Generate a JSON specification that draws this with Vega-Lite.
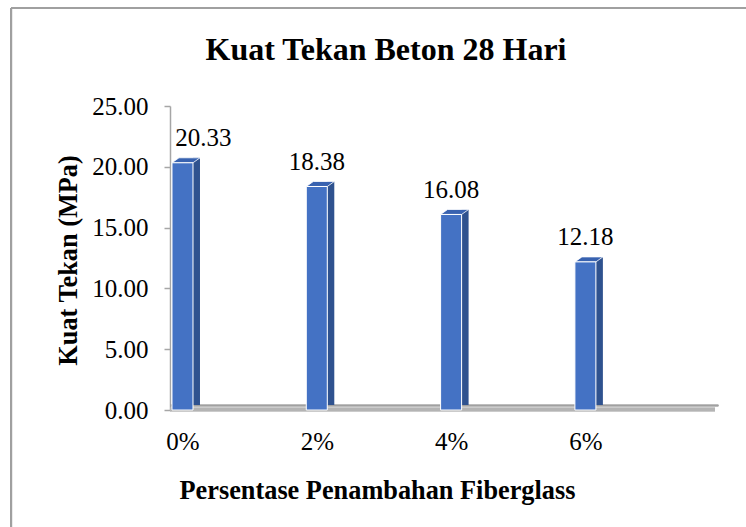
{
  "$schema": "https://vega.github.io/schema/vega-lite/v6.json",
  "width": 545,
  "height": 304,
  "autosize": {"type": "none"},
  "padding": {"left": 170, "top": 106, "right": 31, "bottom": 117},
  "background": "white",
  "title": {"text": "Kuat Tekan Beton 28 Hari", "font": "Liberation Serif", "fontSize": 32, "fontWeight": "bold", "color": "black", "baseline": "alphabetic", "offset": -85, "anchor": "middle", "frame": "group", "dx": -56.5},
  "config": {"view": {"stroke": null}},
  "data": {"values": [
    {"pct": 0, "kuat": 20.33},
    {"pct": 2, "kuat": 18.38},
    {"pct": 4, "kuat": 16.08},
    {"pct": 6, "kuat": 12.18}
  ]},
  "encoding": {
    "x": {"field": "pct", "type": "quantitative",
      "scale": {"domain": [-0.186, 7.93], "nice": false, "zero": false, "padding": 0},
      "axis": {"values": [0, 2, 4, 6], "labelExpr": "datum.value + '%'", "domain": false, "ticks": false, "tickSize": 0, "grid": false,
        "labelFont": "Liberation Serif", "labelFontSize": 25, "labelColor": "black", "labelBaseline": "alphabetic", "labelPadding": 39, "labelDx": -1, "labelFlush": false, "labelOverlap": false,
        "title": "Persentase Penambahan Fiberglass", "titleFont": "Liberation Serif", "titleFontSize": 26.3, "titleFontWeight": "bold", "titleColor": "black",
        "titleX": 207, "titleY": 88, "titleBaseline": "alphabetic", "titleAlign": "center"}},
    "y": {"field": "kuat", "type": "quantitative",
      "scale": {"domain": [0, 25], "nice": false},
      "axis": {"values": [0, 5, 10, 15, 20, 25], "format": ".2f", "domainColor": "#a6a6a6", "domainWidth": 1.5, "tickColor": "#a6a6a6", "tickSize": 6, "tickWidth": 1.5, "grid": false,
        "labelFont": "Liberation Serif", "labelFontSize": 25, "labelColor": "black", "labelPadding": 16,
        "title": "Kuat Tekan (MPa)", "titleFont": "Liberation Serif", "titleFontSize": 26.3, "titleFontWeight": "bold", "titleColor": "black",
        "titleX": -102, "titleY": 154, "titleAngle": -90, "titleBaseline": "middle", "titleAlign": "center"}}
  },
  "layer": [
    {"mark": {"type": "rule", "color": "#a0a0a0", "strokeWidth": 2, "clip": false},
     "encoding": {"x": {"datum": -2.553}, "y": {"datum": 33.06}, "y2": {"datum": -12}}},
    {"mark": {"type": "rule", "color": "#a0a0a0", "strokeWidth": 2, "clip": false},
     "encoding": {"x": {"datum": -2.553}, "x2": {"datum": 10}, "y": {"datum": 33.06}}},
    {"mark": {"type": "rule", "color": "#b4b4b4", "strokeWidth": 3.5, "yOffset": -0.5},
     "encoding": {"x": {"datum": -0.186}, "x2": {"datum": 7.93}, "y": {"datum": 0}}},
    {"mark": {"type": "rule", "color": "#a0a0a0", "strokeWidth": 1.5, "yOffset": -4.5},
     "encoding": {"x": {"datum": -0.186}, "x2": {"datum": 7.98}, "y": {"datum": 0}}},
    {"mark": {"type": "bar", "width": 7, "xOffset": 14, "yOffset": -5, "y2Offset": -2, "color": "#2F528F"}},
    {"mark": {"type": "point", "shape": "M-0.75,0L0.75,0L1.25,-0.357L-0.25,-0.357Z", "size": 784, "filled": true, "color": "#3862B0", "opacity": 1, "stroke": "white", "strokeWidth": 0.8}},
    {"mark": {"type": "bar", "width": 21, "color": "#4472C4", "stroke": "white", "strokeWidth": 1}},
    {"transform": [{"filter": "datum.pct > 0"}],
     "mark": {"type": "text", "dy": -16.5, "baseline": "alphabetic", "font": "Liberation Serif", "fontSize": 25, "color": "black"},
     "encoding": {"text": {"field": "kuat", "type": "quantitative", "format": ".2f"}}},
    {"transform": [{"filter": "datum.pct == 0"}],
     "mark": {"type": "text", "dy": -16.5, "dx": 21, "baseline": "alphabetic", "font": "Liberation Serif", "fontSize": 25, "color": "black"},
     "encoding": {"text": {"field": "kuat", "type": "quantitative", "format": ".2f"}}}
  ]
}
